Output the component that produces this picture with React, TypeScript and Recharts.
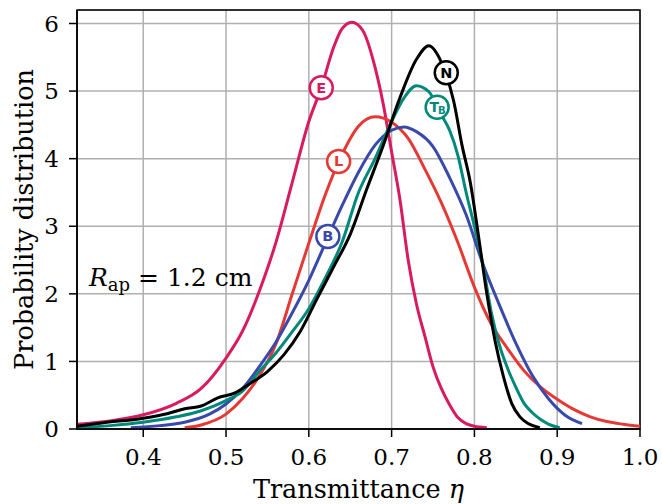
import React from 'react';
import {
  LineChart,
  Line,
  XAxis,
  YAxis,
  CartesianGrid,
  ReferenceDot,
  ReferenceArea,
} from 'recharts';

// transmittance values (x) and probability density (y) for each model
const etaE = [0.32, 0.36, 0.40, 0.44, 0.47, 0.50, 0.52, 0.545, 0.56, 0.58, 0.60, 0.615, 0.63, 0.64, 0.652, 0.665, 0.68, 0.69, 0.70, 0.71, 0.72, 0.73, 0.74, 0.75, 0.76, 0.77, 0.78, 0.79, 0.80, 0.815];
const probE = [0.07, 0.12, 0.21, 0.38, 0.6, 1.05, 1.45, 2.2, 2.75, 3.65, 4.55, 5.05, 5.65, 5.92, 6.02, 5.9, 5.35, 4.8, 4.1, 3.4, 2.5, 1.85, 1.38, 0.92, 0.6, 0.36, 0.17, 0.08, 0.04, 0.02];

const etaL = [0.45, 0.47, 0.50, 0.52, 0.54, 0.56, 0.58, 0.60, 0.62, 0.64, 0.66, 0.68, 0.70, 0.72, 0.74, 0.76, 0.78, 0.80, 0.82, 0.84, 0.86, 0.88, 0.90, 0.92, 0.94, 0.96, 0.98, 1.0];
const probL = [0.02, 0.06, 0.22, 0.45, 0.78, 1.25, 2.0, 2.75, 3.47, 4.06, 4.48, 4.62, 4.54, 4.3, 3.85, 3.35, 2.76, 2.1, 1.56, 1.19, 0.86, 0.62, 0.44, 0.29, 0.18, 0.11, 0.07, 0.04];

const etaB = [0.385, 0.42, 0.45, 0.48, 0.50, 0.52, 0.54, 0.56, 0.58, 0.60, 0.62, 0.64, 0.66, 0.68, 0.70, 0.715, 0.73, 0.75, 0.77, 0.79, 0.81, 0.83, 0.85, 0.87, 0.89, 0.91, 0.93];
const probB = [0.02, 0.05, 0.1, 0.22, 0.37, 0.6, 0.92, 1.28, 1.72, 2.2, 2.75, 3.3, 3.8, 4.2, 4.42, 4.47, 4.4, 4.18, 3.72, 3.17, 2.45, 1.84, 1.27, 0.79, 0.44, 0.2, 0.08];

const etaT = [0.32, 0.36, 0.40, 0.44, 0.47, 0.50, 0.52, 0.54, 0.56, 0.58, 0.60, 0.62, 0.64, 0.66, 0.68, 0.70, 0.715, 0.73, 0.745, 0.76, 0.77, 0.78, 0.79, 0.80, 0.81, 0.82, 0.83, 0.84, 0.85, 0.86, 0.87, 0.88, 0.89, 0.903];
const probT = [0.02, 0.05, 0.1, 0.18, 0.27, 0.42, 0.56, 0.85, 1.12, 1.44, 1.78, 2.24, 2.76, 3.5, 4.0, 4.55, 4.9, 5.08, 4.99, 4.65, 4.42, 4.05, 3.5, 3.0, 2.45, 1.75, 1.25, 0.9, 0.62, 0.38, 0.24, 0.14, 0.07, 0.02];

const etaN = [0.32, 0.35, 0.40, 0.43, 0.45, 0.47, 0.49, 0.51, 0.53, 0.55, 0.57, 0.59, 0.61, 0.63, 0.65, 0.67, 0.69, 0.71, 0.73, 0.745, 0.755, 0.765, 0.775, 0.785, 0.795, 0.805, 0.815, 0.825, 0.835, 0.845, 0.855, 0.865, 0.879];
const probN = [0.04, 0.09, 0.16, 0.23, 0.3, 0.34, 0.46, 0.53, 0.68, 0.85, 1.1, 1.45, 1.93, 2.4, 2.88, 3.55, 4.2, 4.9, 5.47, 5.67, 5.55, 5.27, 4.85, 4.2, 3.65, 2.85, 2.0, 1.3, 0.78, 0.38, 0.18, 0.08, 0.02];

const xTicks = [0.4, 0.5, 0.6, 0.7, 0.8, 0.9, 1.0];
const yTicks = [0, 1, 2, 3, 4, 5, 6];

// curve badges: name, position on the curve
const badgeNames = ['E', 'L', 'B', 'TB', 'N'];
const badgeEta = [0.615, 0.636, 0.623, 0.755, 0.766];
const badgeProb = [5.05, 3.96, 2.85, 4.76, 5.27];

const colors: Record<string, string> = {
  E: '#d81b60',
  L: '#e53935',
  B: '#3949ab',
  TB: '#00897b',
  N: '#000000',
};

const toPoints = (xs: number[], ys: number[]) => xs.map((x, i) => ({ x, y: ys[i] }));

const series = [
  { key: 'E', data: toPoints(etaE, probE) },
  { key: 'L', data: toPoints(etaL, probL) },
  { key: 'B', data: toPoints(etaB, probB) },
  { key: 'TB', data: toPoints(etaT, probT) },
  { key: 'N', data: toPoints(etaN, probN) },
];

const serif = 'DejaVu Serif';

function Badge({ cx, cy, name }: { cx?: number; cy?: number; name: string }) {
  if (cx == null || cy == null) return null;
  const color = colors[name];
  return (
    <g>
      <circle cx={cx} cy={cy} r={11.5} fill="#fff" stroke={color} strokeWidth={2.5} />
      {name === 'TB' ? (
        <text x={cx + 0.5} y={cy + 5} textAnchor="middle" fill={color} fontFamily="DejaVu Sans" fontWeight="bold" fontSize={14}>
          <tspan>T</tspan>
          <tspan fontSize={10} dx={-1} dy={2}>B</tspan>
        </text>
      ) : (
        <text x={cx} y={cy + 5} textAnchor="middle" fill={color} fontFamily="DejaVu Sans" fontWeight="bold" fontSize={14.5}>
          {name}
        </text>
      )}
    </g>
  );
}

export default function App() {
  return (
    <div style={{ position: 'absolute', left: 0, top: 0, width: 662, height: 504, background: '#fff' }}>
      <LineChart width={662} height={504} margin={{ top: 10, right: 22, bottom: 0, left: 0 }}>
        <CartesianGrid stroke="#b0b0b0" strokeWidth={1.5} />
        <XAxis
          type="number"
          dataKey="x"
          domain={[0.32, 1.0]}
          ticks={xTicks}
          interval={0}
          allowDataOverflow
          height={75}
          tickFormatter={(v: number) => v.toFixed(1)}
          tick={{ fontFamily: serif, fontSize: 23, fill: '#000' }}
          tickSize={8}
          tickMargin={12}
          axisLine={{ stroke: '#000', strokeWidth: 1.5 }}
          tickLine={{ stroke: '#000', strokeWidth: 1.5 }}
          label={{
            content: ({ viewBox }: any) => (
              <text x={viewBox.x + viewBox.width / 2} y={498} textAnchor="middle" fontFamily={serif} fontSize={25.5} fill="#000">
                Transmittance <tspan fontStyle="italic">η</tspan>
              </text>
            ),
          }}
        />
        <YAxis
          type="number"
          domain={[0, 6.2]}
          ticks={yTicks}
          interval={0}
          allowDataOverflow
          width={77}
          tick={{ fontFamily: serif, fontSize: 23, fill: '#000' }}
          tickSize={8}
          tickMargin={10}
          axisLine={{ stroke: '#000', strokeWidth: 1.5 }}
          tickLine={{ stroke: '#000', strokeWidth: 1.5 }}
          label={{
            content: ({ viewBox }: any) => {
              const cy = viewBox.y + viewBox.height / 2;
              return (
                <text x={33} y={cy} transform={`rotate(-90 33 ${cy})`} textAnchor="middle" fontFamily={serif} fontSize={25.5} fill="#000">
                  Probability distribution
                </text>
              );
            },
          }}
        />
        {series.map((s) => (
          <Line
            key={s.key}
            data={s.data}
            dataKey="y"
            type="monotone"
            stroke={colors[s.key]}
            strokeWidth={3}
            dot={false}
            activeDot={false}
            isAnimationActive={false}
          />
        ))}
        <ReferenceArea x1={0.32} x2={1.0} y1={0} y2={6.2} fill="none" stroke="#000" strokeWidth={1.5} ifOverflow="visible" />
        {badgeNames.map((n, i) => (
          <ReferenceDot
            key={n}
            x={badgeEta[i]}
            y={badgeProb[i]}
            r={11.5}
            ifOverflow="visible"
            shape={(p: any) => <Badge cx={p.cx} cy={p.cy} name={n} />}
          />
        ))}
      </LineChart>
      <svg width={662} height={504} style={{ position: 'absolute', left: 0, top: 0, pointerEvents: 'none' }}>
        <text x={89} y={286} fontFamily={serif} fontSize={25} fill="#000">
          <tspan fontStyle="italic">R</tspan>
          <tspan fontSize={18} dy={5}>ap</tspan>
          <tspan dy={-5}> = 1.2 cm</tspan>
        </text>
      </svg>
    </div>
  );
}
